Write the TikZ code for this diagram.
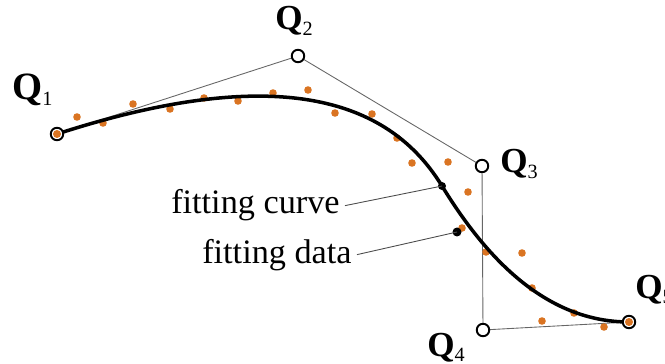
\documentclass[tikz,border=0pt]{standalone}
\usepackage{fontspec}
\setmainfont{Liberation Serif}
\definecolor{dataorange}{RGB}{218,116,34}
\newcommand{\qlab}[2]{{\fontsize{#1}{#1}\selectfont\bfseries Q}\raisebox{-3pt}{\fontsize{11.5}{13}\selectfont #2}}
\begin{document}
\begin{tikzpicture}[x=0.02cm, y=-0.02cm,
  ctrl/.style={circle, draw, fill=white, line width=1.1pt, inner sep=0pt, minimum size=0.25cm},
  poly/.style={draw=black!60, line width=0.5pt},
  fit/.style={line width=2pt},
  lbl/.style={inner sep=0pt, anchor=base west},
  txt/.style={inner sep=0.1cm, anchor=base east, font=\fontsize{19.5}{23}\selectfont},
  lead/.style={draw=black!70, line width=0.5pt}
]
\useasboundingbox (0,0) rectangle (665,364);
% control points
\coordinate (p1) at (57,134);
\coordinate (p2) at (298,56);
\coordinate (p3) at (482,166);
\coordinate (p4) at (483,330);
\coordinate (p5) at (629,322);
\coordinate (s) at (442,186);
% control polygon
\draw[poly] (p1) -- (p2) -- (p3) -- (p4) -- (p5);
% data points
\foreach \x/\y in {77/117, 103/123, 133/104, 170/109, 204/98, 238/101, 273/93,
  308/90, 335/113, 372/114, 397/138, 412/163, 448/162, 468/192, 462/228,
  486/252, 522/253, 532/288, 542/321, 574/313, 604/327}
  \fill[dataorange] (\x,\y) circle (3.8);
% fitting curve
\draw[fit] (p1) .. controls (298,56) and (396,111) .. (s)
  .. controls (480,248) and (540,322) .. (p5);
% control point markers
\node[ctrl] (q1) at (p1) {};
\node[ctrl] (q2) at (p2) {};
\node[ctrl] (q3) at (p3) {};
\node[ctrl] (q4) at (p4) {};
\node[ctrl] (q5) at (p5) {};
\fill[dataorange] (q1) circle (4);
\fill[dataorange] (q5) circle (4);
% markers for labels
\fill (s) circle (4);
\coordinate (dmark) at (457,232);
\fill (dmark) circle (4.5);
% labels
\node[lbl] (l1) at (12,100) {\qlab{22}{1}};
\node[lbl] (l2) at (275,30) {\qlab{20}{2}};
\node[lbl] (l3) at (500,173) {\qlab{20}{3}};
\node[lbl] (l4) at (427,356) {\qlab{20}{4}};
\node[lbl] (l5) at (635,298) {\qlab{20}{5}};
\node[txt] (curvetxt) at (345,214) {fitting curve};
\node[txt] (datatxt) at (357,263) {fitting data};
\draw[lead] (curvetxt.east) -- (s);
\draw[lead] (datatxt.east) -- (dmark);
\end{tikzpicture}
\end{document}
